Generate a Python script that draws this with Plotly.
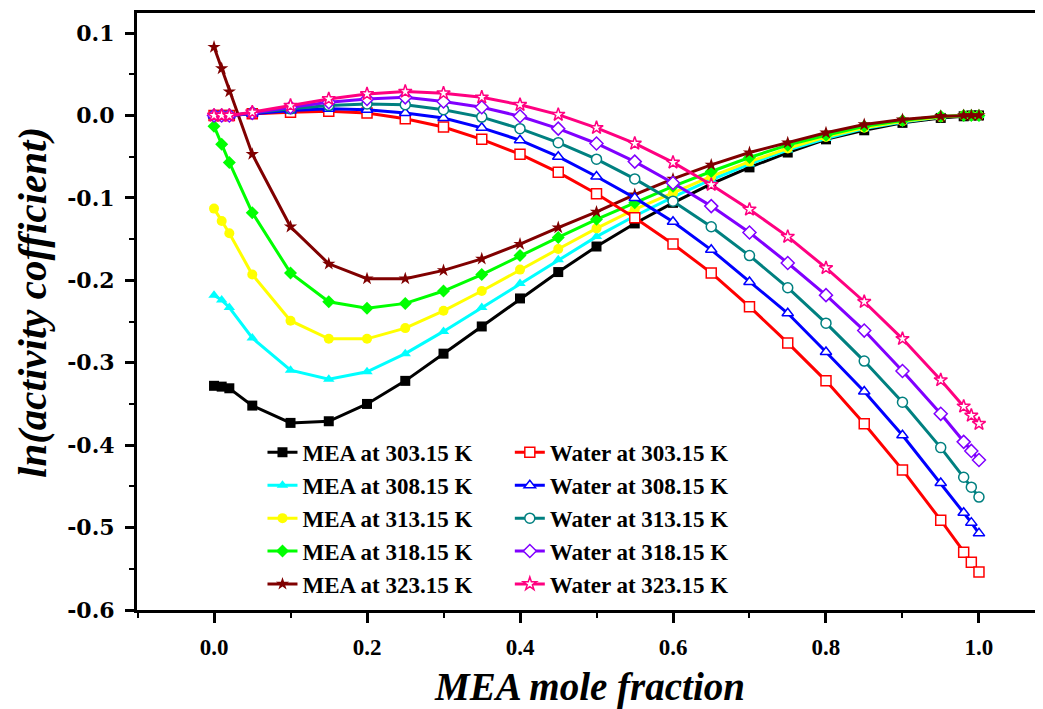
import plotly.graph_objects as go

x = [0, 0.01, 0.02, 0.05, 0.1, 0.15, 0.2, 0.25, 0.3, 0.35, 0.4, 0.45, 0.5,
     0.55, 0.6, 0.65, 0.7, 0.75, 0.8, 0.85, 0.9, 0.95, 0.98, 0.99, 1.0]

mea_303 = [-0.328, -0.329, -0.331, -0.352, -0.373, -0.371, -0.350, -0.322, -0.289, -0.256,
           -0.222, -0.190, -0.159, -0.131, -0.106, -0.083, -0.063, -0.045, -0.029, -0.018,
           -0.009, -0.003, -0.001, 0.0, 0.0]
mea_308 = [-0.218, -0.224, -0.233, -0.270, -0.309, -0.320, -0.311, -0.289, -0.262, -0.233,
           -0.204, -0.175, -0.147, -0.122, -0.099, -0.078, -0.059, -0.042, -0.028, -0.016,
           -0.008, -0.002, 0.0, 0.0, 0.0]
mea_313 = [-0.113, -0.128, -0.143, -0.193, -0.249, -0.271, -0.271, -0.258, -0.237, -0.213,
           -0.187, -0.162, -0.137, -0.114, -0.094, -0.074, -0.056, -0.040, -0.026, -0.015,
           -0.007, -0.002, 0.0, 0.0, 0.0]
mea_318 = [-0.013, -0.035, -0.057, -0.118, -0.191, -0.226, -0.234, -0.228, -0.213, -0.193,
           -0.170, -0.148, -0.126, -0.106, -0.086, -0.068, -0.051, -0.036, -0.024, -0.013,
           -0.006, -0.001, 0.0, 0.0, 0.0]
mea_323 = [0.083, 0.057, 0.029, -0.047, -0.135, -0.180, -0.198, -0.198, -0.188, -0.174,
           -0.156, -0.136, -0.117, -0.096, -0.077, -0.060, -0.045, -0.033, -0.021, -0.011,
           -0.005, -0.001, 0.0, 0.0, 0.0]

water_303 = [0.0, 0.0, 0.0, 0.002, 0.004, 0.005, 0.003, -0.004, -0.014, -0.029,
             -0.047, -0.069, -0.095, -0.124, -0.156, -0.191, -0.232, -0.276, -0.322, -0.374,
             -0.430, -0.491, -0.530, -0.542, -0.554]
water_308 = [0.0, 0.0, 0.0, 0.002, 0.006, 0.008, 0.007, 0.003, -0.003, -0.015,
             -0.030, -0.050, -0.074, -0.100, -0.129, -0.163, -0.202, -0.240, -0.287, -0.335,
             -0.388, -0.446, -0.482, -0.494, -0.507]
water_313 = [0.0, 0.0, 0.0, 0.003, 0.008, 0.012, 0.014, 0.013, 0.007, -0.002,
             -0.016, -0.033, -0.053, -0.077, -0.104, -0.135, -0.170, -0.209, -0.252, -0.298,
             -0.348, -0.403, -0.439, -0.451, -0.463]
water_318 = [0.0, 0.0, 0.0, 0.003, 0.010, 0.016, 0.020, 0.022, 0.017, 0.010,
             -0.001, -0.016, -0.034, -0.056, -0.082, -0.110, -0.142, -0.179, -0.218, -0.261,
             -0.310, -0.362, -0.396, -0.407, -0.418]
water_323 = [0.0, 0.0, 0.0, 0.004, 0.012, 0.020, 0.026, 0.029, 0.027, 0.022,
             0.013, 0.001, -0.015, -0.034, -0.057, -0.084, -0.114, -0.147, -0.185, -0.226,
             -0.271, -0.321, -0.353, -0.364, -0.374]

x_tickvals = [0.0, 0.2, 0.4, 0.6, 0.8, 1.0]
x_ticktext = ["0.0", "0.2", "0.4", "0.6", "0.8", "1.0"]
y_tickvals = [0.1, 0.0, -0.1, -0.2, -0.3, -0.4, -0.5, -0.6]
y_ticktext = ["0.1", "0.0", "-0.1", "-0.2", "-0.3", "-0.4", "-0.5", "-0.6"]

temps = ["303.15", "308.15", "313.15", "318.15", "323.15"]
mea_series = [mea_303, mea_308, mea_313, mea_318, mea_323]
water_series = [water_303, water_308, water_313, water_318, water_323]
mea_colors = ["#000000", "#00FFFF", "#FFFF00", "#00FF00", "#800000"]
water_colors = ["#FF0000", "#0000FF", "#008080", "#8000FF", "#FF0080"]
symbols = ["square", "triangle-up", "circle", "diamond", "star"]

SERIF = "Liberation Serif, Times New Roman, serif"

fig = go.Figure()
for t, ys, c, s in zip(temps, mea_series, mea_colors, symbols):
    fig.add_trace(go.Scatter(
        x=x, y=ys, mode="lines+markers", name=f"MEA at {t} K",
        line=dict(color=c, width=3),
        marker=dict(symbol=s, size=10, color=c, line=dict(color=c, width=0)),
        legend="legend",
    ))
for t, ys, c, s in zip(temps, water_series, water_colors, symbols):
    fig.add_trace(go.Scatter(
        x=x, y=ys, mode="lines+markers", name=f"Water at {t} K",
        line=dict(color=c, width=3),
        marker=dict(symbol=s, size=10, color="white", line=dict(color=c, width=1.5)),
        legend="legend2",
    ))

# The page body has an 8px default margin, so the figure is drawn 8px in
# from the top-left corner of the 1043x709 window.
legend_font = dict(family=SERIF, size=23, color="black", weight="bold")
fig.update_layout(
    width=1035, height=701,
    margin=dict(l=129, r=0, t=5, b=99, autoexpand=False),
    plot_bgcolor="white", paper_bgcolor="white",
    showlegend=True,
    legend=dict(x=0.1385, y=0.30, xanchor="left", yanchor="top",
                font=legend_font, bgcolor="rgba(0,0,0,0)", tracegroupgap=0),
    legend2=dict(x=0.4115, y=0.30, xanchor="left", yanchor="top",
                 font=legend_font, bgcolor="rgba(0,0,0,0)", tracegroupgap=0),
    xaxis=dict(
        range=[-0.1007, 1.0837], showgrid=False, zeroline=False, automargin=False,
        showline=True, linecolor="black", linewidth=3, mirror=True,
        ticks="outside", ticklen=10, tickwidth=3, tickcolor="black",
        tickmode="array", tickvals=x_tickvals, ticktext=x_ticktext,
        ticklabelstandoff=4,
        tickfont=dict(family=SERIF, size=23, color="black", weight="bold"),
        minor=dict(dtick=0.1, tick0=0, ticks="outside", ticklen=5, tickwidth=2, tickcolor="black"),
        title=dict(text="MEA mole fraction", standoff=34,
                   font=dict(family=SERIF, size=39, color="black",
                             weight="bold", style="italic")),
    ),
    yaxis=dict(
        range=[-0.6, 0.1243], showgrid=False, zeroline=False, automargin=False,
        showline=True, linecolor="black", linewidth=3, mirror=False,
        ticks="outside", ticklen=9, tickwidth=3, tickcolor="black",
        tickmode="array", tickvals=y_tickvals, ticktext=y_ticktext,
        ticklabelstandoff=6,
        tickfont=dict(family="DejaVu Serif", size=22, color="black", weight="bold"),
        minor=dict(dtick=0.05, tick0=0, ticks="outside", ticklen=5, tickwidth=2, tickcolor="black"),
    ),
    annotations=[dict(
        text="ln(activity cofficient)", textangle=-90,
        xref="paper", yref="paper", x=-0.1159, y=0.5159,
        xanchor="center", yanchor="middle", showarrow=False,
        font=dict(family=SERIF, size=41, color="black", weight="bold", style="italic"),
    )],
)

fig.write_html("out.html")
